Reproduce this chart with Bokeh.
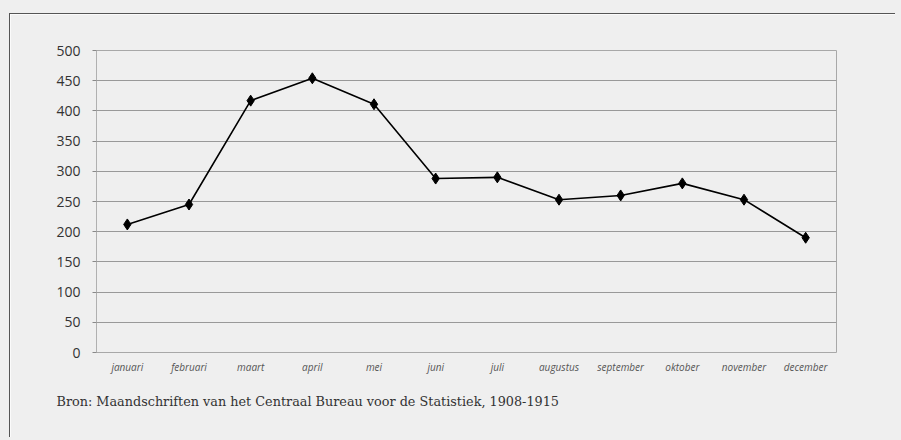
from bokeh.plotting import figure
from bokeh.models import Title, FixedTicker, Range1d
from bokeh.embed import file_html
from bokeh.resources import INLINE

months = ["januari", "februari", "maart", "april", "mei", "juni", "juli",
          "augustus", "september", "oktober", "november", "december"]
values = [212, 245, 417, 454, 411, 288, 290, 253, 260, 280, 253, 190]
y_ticks = [0, 50, 100, 150, 200, 250, 300, 350, 400, 450, 500]
source_text = "Bron: Maandschriften van het Centraal Bureau voor de Statistiek, 1908-1915"

bg = "#efefef"
p = figure(width=886, height=424, x_range=months, y_range=Range1d(0, 500),
           output_backend="svg", toolbar_location=None,
           min_border_left=86, min_border_right=60, min_border_top=36, min_border_bottom=86)
p.margin = (13, 0, 0, 9)
p.styles = {"border-left": "1px solid #555", "border-top": "1px solid #555",
            "box-shadow": "0 0 0 40px #efefef"}
p.background_fill_color = bg
p.border_fill_color = bg
p.outline_line_color = "#a8a8a8"

p.line(months, values, line_color="black", line_width=1.6)
p.scatter(months, values, marker="diamond", size=11, fill_color="black", line_color="black")

p.yaxis.ticker = FixedTicker(ticks=y_ticks)
p.yaxis.minor_tick_line_color = None
p.yaxis.major_tick_in = 0
p.yaxis.major_tick_out = 4
p.yaxis.major_tick_line_color = "#888888"
p.yaxis.axis_line_color = "#b0b0b0"
p.yaxis.major_label_text_font = "Open Sans"
p.yaxis.major_label_text_font_size = "14px"
p.yaxis.major_label_text_color = "#333333"
p.yaxis.major_label_standoff = 12

p.xaxis.major_tick_line_color = None
p.xaxis.axis_line_color = None
p.xaxis.major_label_text_font = "Open Sans"
p.xaxis.major_label_text_font_style = "italic"
p.xaxis.major_label_text_font_size = "10px"
p.xaxis.major_label_text_color = "#555555"
p.xaxis.major_label_standoff = 1

p.xgrid.grid_line_color = None
p.ygrid.ticker = FixedTicker(ticks=y_ticks)
p.ygrid.grid_line_color = "#999999"
p.ygrid.grid_line_width = 1

t = Title(text=source_text, align="left", text_font="DejaVu Serif",
          text_font_size="12.8px", text_font_style="normal", text_color="#333333",
          offset=-40, standoff=30)
p.add_layout(t, "below")

open("out.html", "w").write(file_html(p, INLINE))
